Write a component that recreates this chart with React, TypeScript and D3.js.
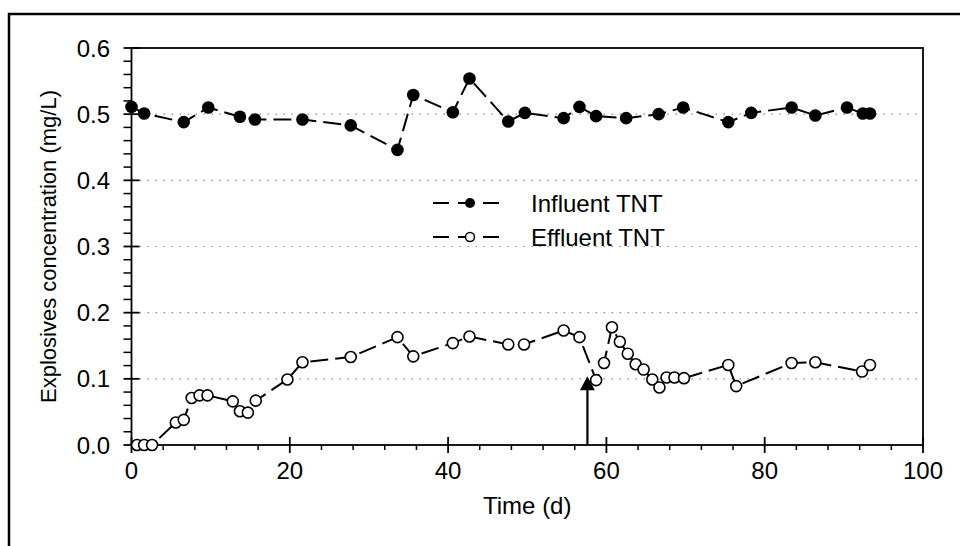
import React from "react";
import * as d3 from "d3";

const influentDays = [0, 1.6, 6.6, 9.7, 13.7, 15.6, 21.6, 27.7, 33.6, 35.6, 40.6, 42.7, 47.6, 49.7, 54.6, 56.6, 58.7, 62.5, 66.6, 69.7, 75.4, 78.3, 83.4, 86.4, 90.4, 92.4, 93.3];
const influentTNT = [0.511, 0.501, 0.488, 0.510, 0.496, 0.492, 0.492, 0.483, 0.446, 0.529, 0.503, 0.554, 0.489, 0.502, 0.494, 0.511, 0.497, 0.494, 0.500, 0.510, 0.488, 0.502, 0.510, 0.498, 0.510, 0.501, 0.501];

const effluentDays = [0.7, 1.6, 2.6, 5.6, 6.6, 7.6, 8.6, 9.6, 12.8, 13.7, 14.7, 15.7, 19.7, 21.6, 27.7, 33.6, 35.6, 40.6, 42.7, 47.6, 49.6, 54.6, 56.6, 58.7, 59.7, 60.7, 61.7, 62.7, 63.7, 64.7, 65.8, 66.7, 67.6, 68.6, 69.8, 75.4, 76.4, 83.4, 86.4, 92.3, 93.3];
const effluentTNT = [0, 0, 0, 0.034, 0.038, 0.071, 0.075, 0.075, 0.066, 0.051, 0.049, 0.067, 0.099, 0.125, 0.133, 0.163, 0.134, 0.154, 0.164, 0.152, 0.152, 0.173, 0.163, 0.098, 0.124, 0.178, 0.156, 0.138, 0.122, 0.114, 0.099, 0.087, 0.102, 0.102, 0.101, 0.121, 0.089, 0.124, 0.125, 0.111, 0.121];

const xTicks = [0, 20, 40, 60, 80, 100];
const yTicks = [0, 0.1, 0.2, 0.3, 0.4, 0.5, 0.6];
const gridValues = [0.1, 0.2, 0.3, 0.4, 0.5];
const arrowDay = [57.6];
const arrowTop = [0.104];
const legendLabels = ["Influent TNT", "Effluent TNT"];

const FONT = "'Liberation Sans', Arial, sans-serif";
const FS = 24;

export default function App() {
  const x = d3.scaleLinear().domain([0, 100]).range([131.5, 923]);
  const y = d3.scaleLinear().domain([0, 0.6]).range([445, 48]);

  const inf = influentDays.map((d, i) => [d, influentTNT[i]] as [number, number]);
  const eff = effluentDays.map((d, i) => [d, effluentTNT[i]] as [number, number]);
  const line = d3.line<[number, number]>().x((d) => x(d[0])).y((d) => y(d[1]));

  const xMinor = d3.range(0, 100.01, 4).filter((v) => v % 20 !== 0);
  const yMinor = d3.range(0, 0.6001, 0.02).filter((v) => Math.abs(v * 10 - Math.round(v * 10)) > 1e-6);

  const x0 = x(0), x1 = x(100), y0 = y(0), y1 = y(0.6);
  const ax = x(arrowDay[0]);
  const aTop = y(arrowTop[0]);

  return (
    <svg width={960} height={546} style={{ position: "absolute", left: 0, top: 0, background: "#fff" }} fontFamily={FONT}>
      <rect x={0} y={0} width={960} height={546} fill="#fff" />
      {/* outer frame */}
      <rect x={9} y={14} width={1000} height={600} fill="none" stroke="#000" strokeWidth={2.5} />

      {/* grid */}
      {gridValues.map((g) => (
        <line key={g} x1={x0} x2={x1} y1={y(g)} y2={y(g)} stroke="#888" strokeWidth={1.2} strokeDasharray="1.5,6.5" />
      ))}

      {/* plot box */}
      <rect x={x0} y={y1} width={x1 - x0} height={y0 - y1} fill="none" stroke="#000" strokeWidth={1.8} />

      {/* y ticks */}
      {yTicks.map((t) => (
        <g key={t}>
          <line x1={x0 - 8} x2={x0 + 8} y1={y(t)} y2={y(t)} stroke="#000" strokeWidth={1.8} />
          <text x={110} y={y(t)} dy="0.36em" textAnchor="end" fontSize={FS}>{t.toFixed(1)}</text>
        </g>
      ))}
      {yMinor.map((t) => (
        <line key={"ym" + t} x1={x0 - 8} x2={x0} y1={y(t)} y2={y(t)} stroke="#000" strokeWidth={1.5} />
      ))}

      {/* x ticks */}
      {xTicks.map((t) => (
        <g key={t}>
          <line x1={x(t)} x2={x(t)} y1={y0 - 8} y2={y0 + 8} stroke="#000" strokeWidth={1.8} />
          <text x={x(t)} y={y0 + 34} textAnchor="middle" fontSize={FS}>{t}</text>
        </g>
      ))}
      {xMinor.map((t) => (
        <line key={"xm" + t} x1={x(t)} x2={x(t)} y1={y0} y2={y0 + 5} stroke="#000" strokeWidth={1.5} />
      ))}

      {/* axis titles */}
      <text x={(x0 + x1) / 2} y={514} textAnchor="middle" fontSize={FS}>Time (d)</text>
      <text transform={`translate(56,${(y0 + y1) / 2}) rotate(-90)`} textAnchor="middle" fontSize={22}>
        Explosives concentration (mg/L)
      </text>

      {/* series lines */}
      <path d={line(inf) || ""} fill="none" stroke="#000" strokeWidth={2} strokeDasharray="18,7" />
      <path d={line(eff) || ""} fill="none" stroke="#000" strokeWidth={2} strokeDasharray="18,7" />

      {inf.map((d, i) => (
        <circle key={"i" + i} cx={x(d[0])} cy={y(d[1])} r={6.3} fill="#000" />
      ))}
      {eff.map((d, i) => (
        <circle key={"e" + i} cx={x(d[0])} cy={y(d[1])} r={5.5} fill="#fff" stroke="#000" strokeWidth={1.6} />
      ))}

      {/* arrow */}
      <line x1={ax} x2={ax} y1={y0} y2={aTop + 12} stroke="#000" strokeWidth={2.2} />
      <path d={`M${ax},${aTop} L${ax - 7.5},${aTop + 14} L${ax + 7.5},${aTop + 14} Z`} fill="#000" />

      {/* legend */}
      {legendLabels.map((lab, i) => {
        const ly = 203 + i * 34;
        return (
          <g key={lab}>
            <line x1={433} x2={502} y1={ly} y2={ly} stroke="#000" strokeWidth={2} strokeDasharray="16,9" />
            {i === 0 ? (
              <circle cx={470} cy={ly} r={5} fill="#000" />
            ) : (
              <circle cx={470} cy={ly} r={4.5} fill="#fff" stroke="#000" strokeWidth={1.5} />
            )}
            <text x={531} y={ly} dy="0.36em" fontSize={FS}>{lab}</text>
          </g>
        );
      })}
    </svg>
  );
}
